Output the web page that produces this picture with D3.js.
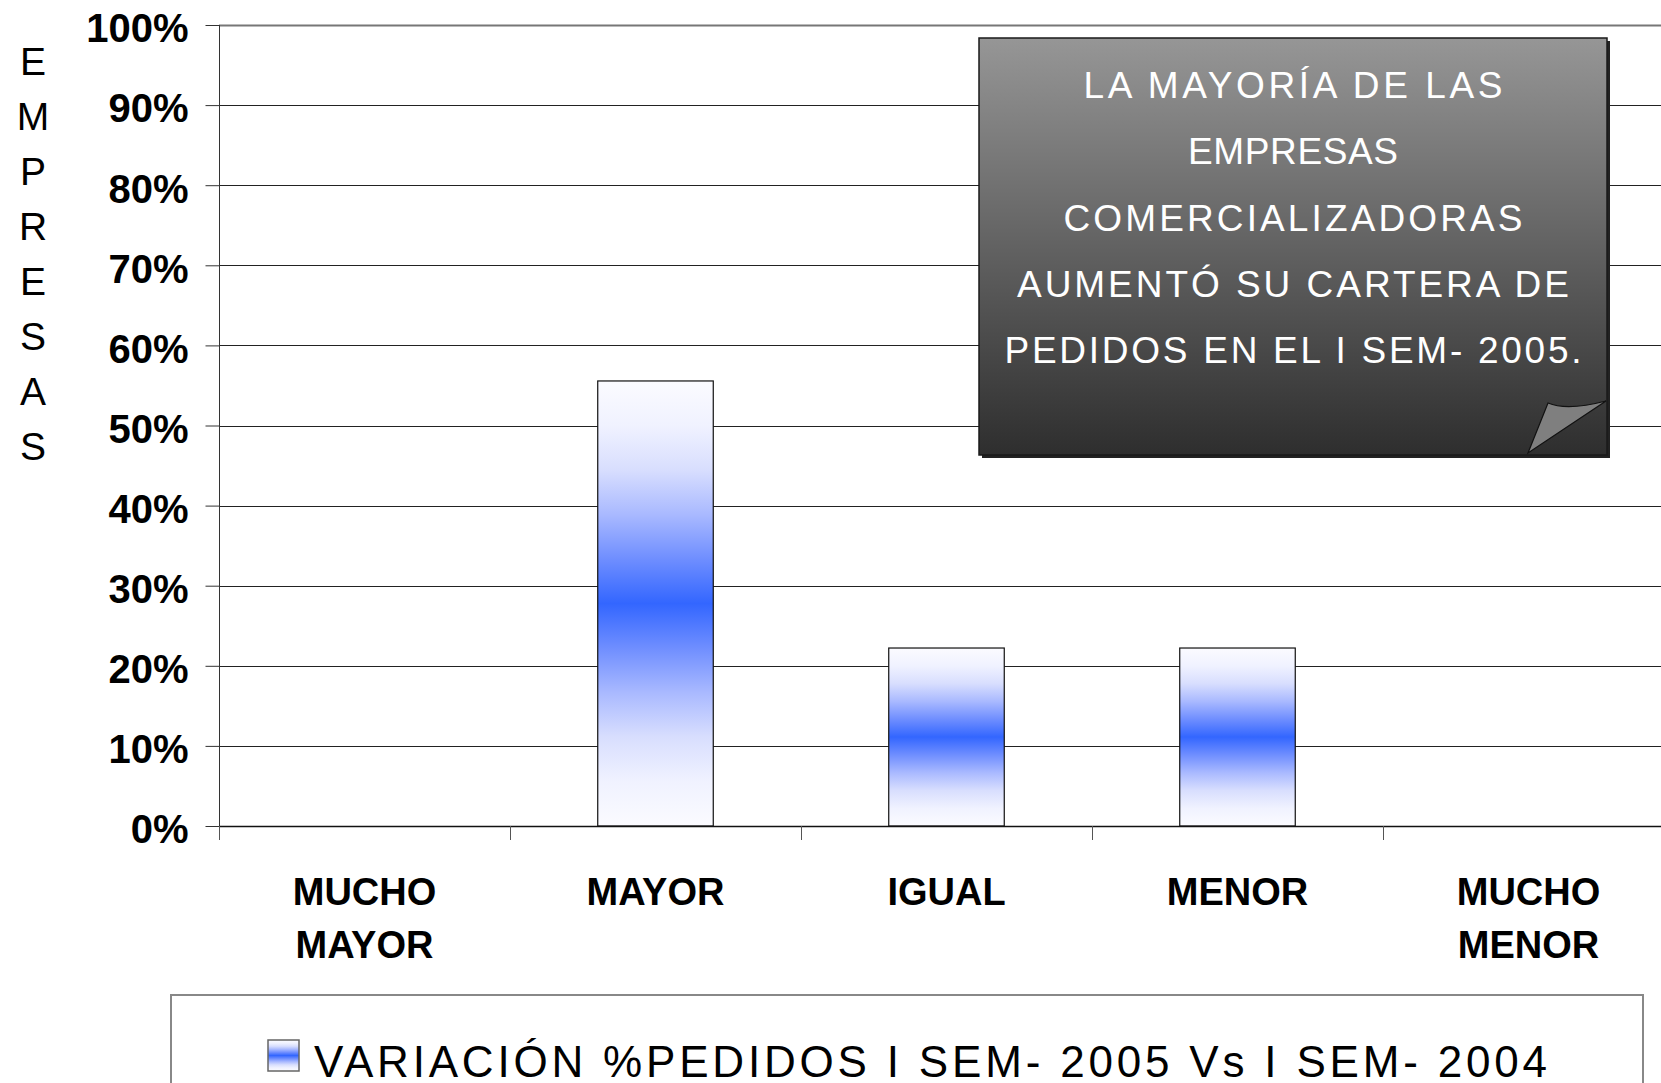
<!DOCTYPE html>
<html><head><meta charset="utf-8">
<script src="https://cdn.jsdelivr.net/npm/d3@7"></script>
<style>html,body{margin:0;padding:0;background:#fff;overflow:hidden}</style>
</head><body><svg id="c" width="1661" height="1083" xmlns="http://www.w3.org/2000/svg"></svg>
<script>
// ---- data ----
const categories = ["MUCHO MAYOR", "MAYOR", "IGUAL", "MENOR", "MUCHO MENOR"];
const values = [0, 0.5556, 0.2222, 0.2222, 0];
const yTicks = [0, 0.1, 0.2, 0.3, 0.4, 0.5, 0.6, 0.7, 0.8, 0.9, 1.0];
const axisTitle = "EMPRESAS";
const calloutLines = ["LA MAYORÍA DE LAS", "EMPRESAS", "COMERCIALIZADORAS", "AUMENTÓ SU CARTERA DE", "PEDIDOS EN EL I SEM- 2005."];
const calloutWidths = [419, 210, 459, 552, 577];
const legendLabel = "VARIACIÓN %PEDIDOS I SEM- 2005 Vs I SEM- 2004";

// ---- layout ----
const FONT = "'Liberation Sans', Arial, sans-serif";
const svg = d3.select("#c");
const plot = {left: 219, right: 1674, top: 25, bottom: 826};
const x = d3.scaleBand().domain(categories).range([plot.left, plot.right]).padding(0);
const y = d3.scaleLinear().domain([0, 1]).range([plot.bottom, plot.top]);

// gradients
const defs = svg.append("defs");
const g1 = defs.append("linearGradient").attr("id", "barGrad").attr("x1", 0).attr("y1", 0).attr("x2", 0).attr("y2", 1);
[[0, "#fbfbff"], [0.1, "#f0f2ff"], [0.2, "#d8defe"], [0.3, "#a9b9ff"], [0.4, "#6f8eff"], [0.5, "#3366ff"],
 [0.6, "#6f8eff"], [0.7, "#a9b9ff"], [0.8, "#d8defe"], [0.9, "#f0f2ff"], [1, "#fbfbff"]]
  .forEach(([o, c]) => g1.append("stop").attr("offset", o).attr("stop-color", c));
const g2 = defs.append("linearGradient").attr("id", "boxGrad").attr("x1", 0).attr("y1", 0).attr("x2", 0).attr("y2", 1);
g2.append("stop").attr("offset", 0).attr("stop-color", "#969696");
g2.append("stop").attr("offset", 1).attr("stop-color", "#2e2e2e");

// gridlines
svg.append("g").selectAll("line").data(yTicks).join("line")
  .attr("x1", plot.left).attr("x2", plot.right)
  .attr("y1", d => Math.round(y(d)) + 0.5).attr("y2", d => Math.round(y(d)) + 0.5)
  .attr("stroke", d => d === 1 ? "#777" : "#222").attr("stroke-width", d => d === 1 ? 2 : 1);

// y axis
const yAxis = svg.append("g").attr("transform", `translate(${plot.left + 0.5},0)`)
  .call(d3.axisLeft(y).tickValues(yTicks).tickSize(14).tickPadding(17).tickFormat(d3.format(".0%")));
yAxis.select(".domain").remove();
yAxis.selectAll(".tick line").attr("stroke", "#333");
yAxis.selectAll("text").attr("font-family", FONT).attr("font-size", 40).attr("font-weight", "bold")
  .attr("fill", "#000").attr("dy", "0.42em");
svg.append("line").attr("x1", plot.left + 0.5).attr("x2", plot.left + 0.5)
  .attr("y1", plot.top).attr("y2", plot.bottom + 14).attr("stroke", "#333");

// bars
const bw = x.bandwidth() * 0.397;
svg.append("g").selectAll("rect").data(categories.map((c, i) => ({c, v: values[i]})).filter(d => d.v > 0)).join("rect")
  .attr("x", d => x(d.c) + (x.bandwidth() - bw) / 2)
  .attr("y", d => y(d.v))
  .attr("width", bw)
  .attr("height", d => y(0) - y(d.v))
  .attr("fill", "url(#barGrad)")
  .attr("stroke", "#111").attr("stroke-width", 1.2);

// x axis
svg.append("line").attr("x1", plot.left).attr("x2", plot.right)
  .attr("y1", plot.bottom + 0.5).attr("y2", plot.bottom + 0.5).attr("stroke", "#111").attr("stroke-width", 1.5);
const edges = categories.map(c => x(c)).concat([x(categories[categories.length - 1]) + x.bandwidth()]);
svg.append("g").selectAll("line").data(edges).join("line")
  .attr("x1", d => Math.round(d) + 0.5).attr("x2", d => Math.round(d) + 0.5)
  .attr("y1", plot.bottom).attr("y2", plot.bottom + 14).attr("stroke", "#555");
svg.append("g").selectAll("text").data(categories).join("text")
  .attr("text-anchor", "middle").attr("font-family", FONT).attr("font-size", 38).attr("font-weight", "bold")
  .attr("transform", d => `translate(${x(d) + x.bandwidth() / 2},905)`)
  .each(function (d) {
    d.split(" ").forEach((w, i) => d3.select(this).append("tspan").attr("x", 0).attr("y", i * 53).text(w));
  });

// vertical axis title
svg.append("g").selectAll("text").data(axisTitle.split("")).join("text")
  .attr("x", 33).attr("y", (d, i) => 75 + i * 55).attr("text-anchor", "middle")
  .attr("font-family", FONT).attr("font-size", 39).attr("fill", "#000").text(d => d);

// callout box
const box = {x: 979, y: 38, w: 628, h: 417};
svg.append("rect").attr("x", box.x + 3).attr("y", box.y + 3).attr("width", box.w).attr("height", box.h).attr("fill", "#222");
svg.append("rect").attr("x", box.x).attr("y", box.y).attr("width", box.w).attr("height", box.h)
  .attr("fill", "url(#boxGrad)").attr("stroke", "#1a1a1a").attr("stroke-width", 1.5);
svg.append("path")
  .attr("d", `M${box.x + box.w - 79},${box.y + box.h - 2} L${box.x + box.w - 59},${box.y + box.h - 52} Q${box.x + box.w - 40},${box.y + box.h - 44} ${box.x + box.w - 1},${box.y + box.h - 54} Z`)
  .attr("fill", "#7f7f7f").attr("stroke", "#111").attr("stroke-width", 1.2);
svg.append("g").selectAll("text").data(calloutLines).join("text")
  .attr("x", 1293).attr("y", (d, i) => 98 + i * 66.3).attr("text-anchor", "middle")
  .attr("font-family", FONT).attr("font-size", 37).attr("fill", "#fff")
  .attr("textLength", (d, i) => calloutWidths[i]).attr("lengthAdjust", "spacing")
  .text(d => d);

// legend
svg.append("rect").attr("x", 171).attr("y", 995).attr("width", 1472).attr("height", 120)
  .attr("fill", "#fff").attr("stroke", "#888").attr("stroke-width", 2);
svg.append("rect").attr("x", 268).attr("y", 1040).attr("width", 31).attr("height", 31)
  .attr("fill", "url(#barGrad)").attr("stroke", "#666").attr("stroke-width", 1.5);
svg.append("text").attr("x", 314).attr("y", 1077).attr("font-family", FONT).attr("font-size", 44)
  .attr("textLength", 1233).attr("lengthAdjust", "spacing").text(legendLabel);
</script></body></html>
